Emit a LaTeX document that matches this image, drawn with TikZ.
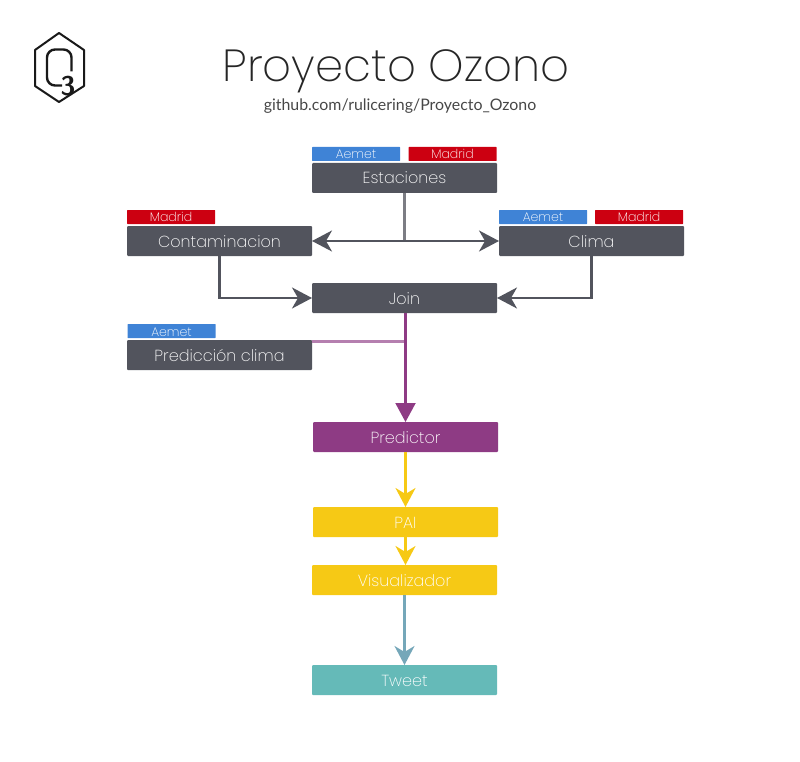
\documentclass[tikz,border=0pt]{standalone}
\usepackage{fontspec}
\setmainfont{Lato}
\newfontfamily\thinfont[UprightFont=* ExtraLight]{Poppins}
\usetikzlibrary{arrows.meta, positioning}
\definecolor{slate}{HTML}{52545D}
\definecolor{slatelight}{HTML}{7C7D84}
\definecolor{plum}{HTML}{8E3B84}
\definecolor{plumlight}{HTML}{B57FAF}
\definecolor{sun}{HTML}{F6C915}
\definecolor{teal2}{HTML}{65BAB8}
\definecolor{tealline}{HTML}{75A7B9}
\definecolor{sky}{HTML}{3F83D6}
\definecolor{crimson}{HTML}{CC0011}

\begin{document}
\begin{tikzpicture}
[x=1pt, y=-1pt,
  box/.style={minimum width=185pt, minimum height=30pt, inner sep=0pt, outer sep=0pt,
    text height=14pt, text depth=2pt,
    rounded corners=1pt, text=white, font=\thinfont\fontsize{16}{18}\selectfont},
  tag/.style={minimum width=88pt, minimum height=14pt, inner sep=0pt, outer sep=0pt,
    text height=11pt, text depth=1pt,
    rounded corners=0.5pt, text=white, font=\thinfont\fontsize{12.5}{14}\selectfont},
  aemet/.style={tag, fill=sky},
  madrid/.style={tag, fill=crimson},
  wire/.style={line width=2.1pt},
  flow/.style={wire, draw=slate, -{Stealth[length=20pt, width=21pt, inset=6pt]}},
  >=latex]

\useasboundingbox (0,0) rectangle (800,762);

% logo
\draw[line width=2pt, line join=round, black!90] (59,33) -- (84,50) -- (84,86) -- (59,102) -- (35,86) -- (35,50) -- cycle;
\draw[line width=2.4pt, black!90, rounded corners=8pt] (71.5,71.5) -- (71.5,49.5) -- (47,49.5) -- (47,85.5) -- (62,85.5);
\node[inner sep=0pt, font=\bfseries\sffamily\fontsize{27}{27}\selectfont, text=black!90] (three) at (68,86.5) {3};

% title
\node[inner sep=0pt, anchor=base, text=black!85, font=\thinfont\fontsize{45}{50}\selectfont] (title) at (396,82) {Proyecto Ozono};
\node[inner sep=0pt, anchor=base, text=black!72, font=\fontsize{15.9}{18}\selectfont] (repo) at (400,111) {github.com/rulicering/Proyecto\_Ozono};

% boxes
\node[box, fill=slate] (estaciones) at (404.5,178) {Estaciones};
\node[box, fill=slate] (contaminacion) at (219.5,241) {Contaminacion};
\node[box, fill=slate] (clima) at (591.5,241) {Clima};
\node[box, fill=slate] (join) at (404.5,298) {Join};
\node[box, fill=slate] (prediccion) at (219.5,355) {Predicción clima};
\node[box, fill=plum] (predictor) at (405.5,437) {Predictor};
\node[box, fill=sun] (pai) at (405.5,522) {PAI};
\node[box, fill=sun] (visualizador) at (404.5,580) {Visualizador};
\node[box, fill=teal2] (tweet) at (404.5,680) {Tweet};

% tags
\node[aemet, above right=2pt and 0pt of estaciones.north west] (estacionesaemet) {Aemet};
\node[madrid, above left=2pt and 0.5pt of estaciones.north east] (estacionesmadrid) {Madrid};
\node[madrid, above right=2pt and 0pt of contaminacion.north west] (contaminacionmadrid) {Madrid};
\node[aemet, above right=2pt and 0pt of clima.north west] (climaaemet) {Aemet};
\node[madrid, above left=2pt and 1pt of clima.north east] (climamadrid) {Madrid};
\node[aemet, above right=2pt and 0.5pt of prediccion.north west] (prediccionaemet) {Aemet};

% connectors
\draw[wire, slatelight] (estaciones) -- (estaciones |- contaminacion);
\draw[flow] (estaciones |- contaminacion) -- (contaminacion);
\draw[flow] (estaciones |- clima) -- (clima);
\draw[flow] (contaminacion) |- (join);
\draw[flow] (clima) |- (join);

\coordinate (merge) at (405.5,341.5);
\draw[wire, plumlight] (prediccion.east |- merge) -- (merge);
\draw[wire, draw=plum, -{Stealth[length=19pt, width=20pt, inset=0pt]}] (predictor |- join.south) -- (predictor);
\draw[wire, draw=sun, -{Stealth[length=19pt, width=20pt, inset=6pt]}] (predictor) -- (pai);
\draw[wire, draw=sun, -{Stealth[length=19pt, width=20pt, inset=6pt]}] (pai) -- (pai |- visualizador.north);
\draw[wire, draw=tealline, -{Stealth[length=19pt, width=20pt, inset=6pt]}] (visualizador) -- (tweet);

\end{tikzpicture}
\end{document}
